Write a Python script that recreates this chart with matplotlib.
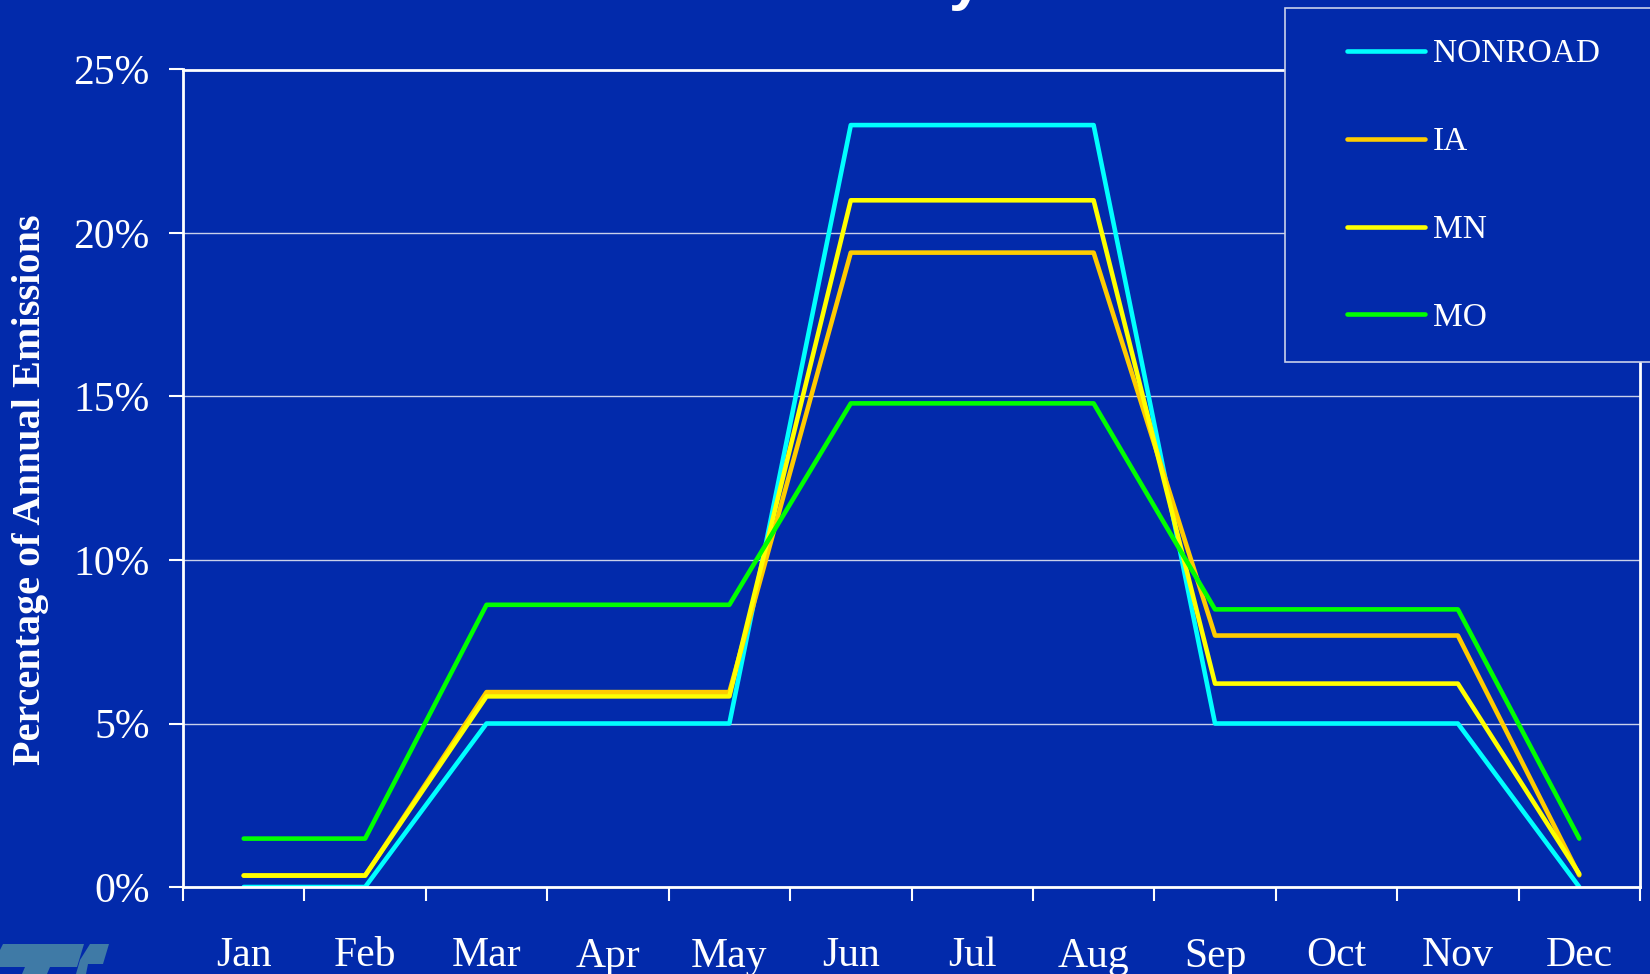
import numpy as np
import matplotlib.pyplot as plt
from matplotlib.patches import Rectangle, Polygon

plt.rcParams['font.family'] = ['Liberation Serif', 'DejaVu Serif']

BG = '#022aab'
W, H = 1650, 974

months = ['Jan', 'Feb', 'Mar', 'Apr', 'May', 'Jun',
          'Jul', 'Aug', 'Sep', 'Oct', 'Nov', 'Dec']

# monthly share of annual emissions, percent
nonroad = [0.0, 0.0, 5.0, 5.0, 5.0, 23.3, 23.3, 23.3, 5.0, 5.0, 5.0, 0.0]
ia = [0.35, 0.35, 5.96, 5.96, 5.96, 19.4, 19.4, 19.4, 7.69, 7.69, 7.69, 0.36]
mn = [0.35, 0.35, 5.83, 5.83, 5.83, 21.0, 21.0, 21.0, 6.22, 6.22, 6.22, 0.40]
mo = [1.48, 1.48, 8.63, 8.63, 8.63, 14.79, 14.79, 14.79, 8.49, 8.49, 8.49, 1.48]

series = [('NONROAD', nonroad, '#00ffff'),
          ('IA', ia, '#ffcc00'),
          ('MN', mn, '#ffff00'),
          ('MO', mo, '#00ff00')]


def px(x, y):
    # pixel position (from top-left) to figure fraction
    return (x / W, 1 - y / H)


fig = plt.figure(figsize=(16.5, 9.74), dpi=100, facecolor=BG)
l, t = px(183, 69.5)
r, b = px(1640, 887)
ax = fig.add_axes([l, b, r - l, t - b], facecolor=BG)

x = np.arange(len(months))
handles = []
for name, vals, col in series:
    h, = ax.plot(x, vals, color=col, lw=3.3, label=name, solid_capstyle='round')
    handles.append(h)

ax.set_xlim(-0.5, 11.5)
ax.set_ylim(0, 25)
ax.set_yticks([0, 5, 10, 15, 20, 25])
ax.set_yticklabels(['0%', '5%', '10%', '15%', '20%', '25%'])
ax.yaxis.grid(True, color='#c9d0ea', lw=1.0)
ax.set_axisbelow(True)

ax.set_xticks(x)
ax.set_xticklabels(months)
ax.set_xticks(np.arange(-0.5, 12, 1), minor=True)
ax.tick_params(axis='x', which='major', length=0, pad=36, labelsize=30, colors='white')
ax.tick_params(axis='x', which='minor', length=10, width=1.5, direction='out', color='white')
ax.tick_params(axis='y', length=10, width=1.5, direction='out', colors='white',
               labelsize=30, pad=14)

for s in ax.spines.values():
    s.set_color('white')
    s.set_linewidth(2)

fig.text(31 / W, 1 - 490 / H, 'Percentage of Annual Emissions', rotation=90,
         color='white', fontsize=29, fontweight='bold', ha='center', va='center')

# title, only its lower edge fits on the slide
fig.text(966 / W, 1 + 2 / H, 'y', color='white', fontsize=44, fontweight='bold',
         ha='center', va='baseline', family='Liberation Sans')

# legend box running off the right edge
box_x, box_y = px(1285, 362)
fig.add_artist(Rectangle((box_x, box_y), 1.0, 1 - 8 / H - box_y,
                         transform=fig.transFigure, facecolor=BG,
                         edgecolor='#c9d0ea', lw=1.2, zorder=3))
fig.legend(handles=handles, loc='upper left', bbox_to_anchor=px(1347, 39),
           frameon=False, fontsize=24, labelcolor='white', handlelength=2.35,
           handletextpad=0.22, labelspacing=1.72, borderpad=0, borderaxespad=0)

# logo in the bottom-left corner
logo = '#3f7aa6'
for pts in ([(3, 944), (84, 944), (77, 967), (50, 967), (47, 974), (22, 974),
             (25, 967), (0, 967), (0, 950)],
            [(90, 944), (109, 944), (103, 964), (88, 964), (86, 974), (76, 974),
             (80, 960)]):
    fig.add_artist(Polygon([px(*p) for p in pts], closed=True,
                           transform=fig.transFigure, color=logo, lw=0))

fig.savefig('out.png', dpi=100, facecolor=BG)
